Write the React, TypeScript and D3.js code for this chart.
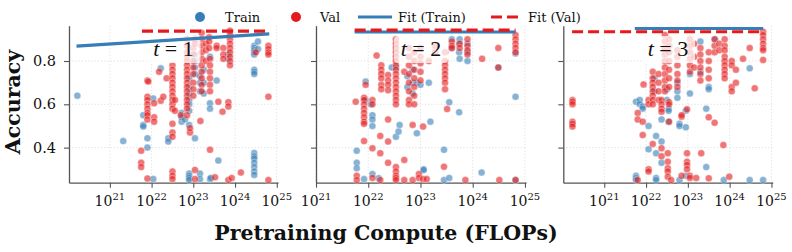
import React, { useRef, useEffect } from 'react';
import * as d3 from 'd3';

const width = 792, height = 252;
const BLUE = '#377eb8', RED = '#e41a1c';

// each entry: [log10 FLOPs, accuracies seen at that compute]
type Col = [number, number[]];

const trainT1: Col[] = [
  [20.22, [.64]], [21.32, [.43]], [21.8, [.55, .505, .497]], [21.9, [.443, .40]],
  [22.04, [.627, .255]], [22.22, [.766]], [22.4, [.443, .428]], [22.72, [.56, .52, .54]],
  [22.8, [.53]], [22.9, [.72, .68, .65, .62, .6, .57, .505, .28, .27, .26, .25]],
  [23.04, [.83, .8, .77, .74, .443]], [23.16, [.28, .255, .73, .7, .66]], [23.25, [.76, .7, .65]],
  [23.4, [.605, .58, .255, .82]], [23.42, [.26]], [23.56, [.71]], [23.6, [.34]], [23.84, [.83, .81]],
  [24.46, [.87, .86, .85, .84, .83, .76, .75, .74, .375, .36, .35, .33, .31, .29, .274]],
  [24.55, [.89, .855]],
];
const valT1: Col[] = [
  [21.75, [.386, .33, .31]], [21.9, [.71, .635, .62, .6, .58, .56, .55, .53, .257]], [21.92, [.705]],
  [22.06, [.605, .54, .52]], [22.18, [.75]], [22.22, [.617]], [22.28, [.635]], [22.36, [.72]],
  [22.5, [.78, .76, .74, .72, .7, .68, .66, .64, .62, .6, .58, .51, .47, .45, .29, .27, .255]],
  [22.56, [.62, .57]], [22.7, [.55]],
  [22.85, [.9, .87, .84, .82, .8, .78, .76, .74, .72, .7, .68, .66, .64, .62, .6, .58, .55]],
  [22.92, [.47, .49]], [23.0, [.86, .83, .8, .77, .74, .7, .67, .64]], [23.04, [.9, .88, .297, .255]],
  [23.17, [.523]], [23.2, [.93, .9, .87, .84, .81, .78, .75, .72, .69, .66]], [23.3, [.88, .85, .8]],
  [23.4, [.81, .78, .75, .72, .69, .66, .39]], [23.38, [.91, .89, .86]], [23.52, [.263]],
  [23.56, [.87, .86]], [23.6, [.612]], [23.7, [.566]], [23.72, [.86, .83, .81]], [23.84, [.61, .59, .25]],
  [23.88, [.94, .92, .9, .88, .86, .84, .82, .8, .78]], [23.92, [.26]], [24.14, [.285]], [24.5, [.84]],
  [24.8, [.87, .855, .84, .83, .635, .25]],
];

const trainT2: Col[] = [
  [21.78, [.386, .33, .305]], [21.92, [.255]], [21.95, [.705, .62]], [22.08, [.55, .53, .5, .278]],
  [22.05, [.6]], [22.2, [.259]], [22.45, [.77]], [22.53, [.77, .45]], [22.58, [.474]], [22.6, [.505]],
  [22.75, [.73, .68]], [22.85, [.76, .7, .65]], [22.93, [.466, .7]], [23.0, [.69]], [23.06, [.3, .297]],
  [23.16, [.7]], [23.19, [.52]], [23.45, [.39, .25]], [23.55, [.26, .61]], [23.6, [.9, .86]],
  [23.74, [.563, .88, .84]], [23.75, [.9, .81]], [23.9, [.88, .84, .8]], [24.17, [.285]], [24.49, [.77]],
  [24.82, [.835, .635, .25]],
];
const valT2: Col[] = [
  [21.76, [.612]], [21.78, [.27, .25]], [21.92, [.63, .62, .6, .58, .56, .54, .52, .51, .43]],
  [21.95, [.69]], [22.08, [.62, .6, .397, .26]], [22.16, [.825]], [22.23, [.454, .374, .25]],
  [22.25, [.78, .76, .74, .72, .69, .67]], [22.38, [.735, .71, .69, .665, .53, .428, .33]],
  [22.53, [.9, .88, .86, .84, .82, .8, .78, .76, .74, .72, .7, .68, .66, .64, .62, .6, .31, .29, .27, .26, .25]],
  [22.69, [.75, .343, .25]], [22.78, [.86, .82, .78, .74, .7, .66, .62, .6]], [22.85, [.505, .25]],
  [22.88, [.84, .8, .76, .72, .68, .64, .6]], [22.97, [.278, .26]], [23.0, [.86, .82, .79, .75, .71]],
  [23.05, [.497, .255]], [23.12, [.255]], [23.16, [.8]], [23.28, [.87, .84]], [23.45, [.312]],
  [23.47, [.8, .78, .76, .74, .72, .7, .67, .84]], [23.51, [.578]], [23.6, [.89, .87, .86]],
  [23.75, [.88, .86]], [23.86, [.25]], [23.9, [.9, .87, .85, .83]], [24.18, [.81]], [24.49, [.86, .77]],
  [24.51, [.25]], [24.82, [.92, .9, .88, .86, .84, .25]],
];

const trainT3: Col[] = [
  [21.76, [.612, .27, .26, .25]], [21.85, [.62, .6]], [21.92, [.59, .58]], [22.06, [.5, .392]],
  [22.24, [.454, .374, .26, .25]], [22.2, [.66, .72]], [22.37, [.53, .428, .33]], [22.54, [.52, .58, .57]],
  [22.5, [.67, .62]], [22.8, [.51, .5, .25]], [22.75, [.7, .66, .63]], [22.95, [.494, .57, .27]],
  [23.05, [.74, .65]], [23.3, [.89, .75]], [23.44, [.31, .58]], [23.5, [.68, .67]], [23.65, [.9]],
  [23.86, [.25]], [24.48, [.766, .25]], [24.8, [.25]],
];
const valT3: Col[] = [
  [20.24, [.62, .612, .6, .52, .51, .497]], [21.8, [.56, .53, .25]], [21.92, [.52, .458]], [21.94, [.692]],
  [22.06, [.62, .6, .3, .29]], [22.16, [.75, .72, .7, .68, .66, .64, .62, .6, .417]],
  [22.3, [.74, .7, .66, .62]], [22.37, [.62, .6, .58, .566, .397, .36]],
  [22.45, [.92, .89, .86, .83, .8, .77, .74, .71, .68, .66]], [22.52, [.374, .335, .305, .29, .266]],
  [22.55, [.9, .87, .84, .8, .76, .72, .68, .61, .6, .52]], [22.6, [.25]],
  [22.75, [.85, .82, .78, .74, .71, .68]], [22.85, [.543, .55, .27]], [22.98, [.374, .335, .32, .3, .577]],
  [23.05, [.9, .87, .84, .81, .78, .75, .27, .26]], [23.15, [.88, .82, .77]], [23.2, [.26]],
  [23.3, [.86, .83, .8, .77, .74, .71]], [23.32, [.374]], [23.5, [.84, .8, .76, .72, .54, .258]],
  [23.64, [.515, .9, .87, .84]], [23.75, [.88, .85]], [23.85, [.412]],
  [23.88, [.9, .87, .85, .82, .8, .78, .76, .74, .72]], [23.99, [.266]], [24.05, [.8, .78, .68, .66]],
  [24.15, [.76, .7]], [24.32, [.81]], [24.48, [.86]], [24.6, [.674]],
  [24.8, [.935, .92, .9, .88, .86, .85, .805]],
];

// fitted lines: [log10 FLOPs, accuracy] endpoints
const fitTrain = [
  [[20.2, .869], [24.82, .925]],
  [[21.74, .934], [24.82, .934]],
  [[21.73, .95], [24.8, .95]],
];
const fitVal = [
  [[21.77, .938], [24.8, .938]],
  [[21.74, .943], [24.82, .943]],
  [[20.23, .935], [24.79, .935]],
];

const panelNames = ['1', '2', '3'];
const xDomains = [[20.02, 25.03], [21, 25.02], [20.02, 25.03]];
const xRanges = [[69, 278], [316, 526], [563.3, 772.7]];
const xTickExps = [21, 22, 23, 24, 25];
const yTicks = [0.4, 0.6, 0.8];

const SERIF = '"DejaVu Serif", serif';

const flat = (cols: Col[]) => cols.flatMap(([lx, ys]) => ys.map(v => [lx, v]));

export default function App() {
  const ref = useRef<SVGSVGElement>(null);

  useEffect(() => {
    const svg = d3.select(ref.current);
    svg.selectAll('*').remove();

    const y = d3.scaleLinear().domain([0.238, 0.963]).range([182.7, 25.7]);
    const trains = [trainT1, trainT2, trainT3];
    const vals = [valT1, valT2, valT3];

    panelNames.forEach((name, i) => {
      const x = d3.scaleLog()
        .domain(xDomains[i].map(e => Math.pow(10, e)))
        .range(xRanges[i]);
      const g = svg.append('g');
      const [x0, x1] = xRanges[i];

      // grid
      g.selectAll('line.gx').data(xTickExps).join('line')
        .attr('x1', d => x(Math.pow(10, d))).attr('x2', d => x(Math.pow(10, d)))
        .attr('y1', 25.7).attr('y2', 182.7)
        .attr('stroke', '#d8d8d8').attr('stroke-width', 0.8).attr('stroke-dasharray', '1.2,2');
      g.selectAll('line.gy').data(yTicks).join('line')
        .attr('x1', x0).attr('x2', x1)
        .attr('y1', d => y(d)).attr('y2', d => y(d))
        .attr('stroke', '#d8d8d8').attr('stroke-width', 0.8).attr('stroke-dasharray', '1.2,2');

      // axes
      const xAxis = d3.axisBottom(x).tickValues(xTickExps.map(e => Math.pow(10, e)))
        .tickSize(5).tickSizeOuter(0).tickFormat(() => '');
      const gx = g.append('g').attr('transform', `translate(0,182.7)`).call(xAxis);
      const yAxis = d3.axisLeft(y).tickValues(yTicks).tickSize(5).tickSizeOuter(0)
        .tickFormat(i === 0 ? (d => d3.format('.1f')(d as number)) : () => '');
      const gy = g.append('g').attr('transform', `translate(${x0},0)`).call(yAxis);
      [gx, gy].forEach(a => {
        a.select('.domain').attr('stroke', '#555').attr('stroke-width', 1.3);
        a.selectAll('.tick line').attr('stroke', '#555').attr('stroke-width', 1.1);
      });
      gy.selectAll('.tick text').attr('font-family', SERIF).attr('font-size', 14.5)
        .attr('fill', '#111').attr('x', -13);

      // x tick labels 10^n
      xTickExps.forEach(e => {
        const t = g.append('text').attr('x', x(Math.pow(10, e))).attr('y', 206)
          .attr('text-anchor', 'middle').attr('font-family', SERIF).attr('font-size', 14).attr('fill', '#111');
        t.append('tspan').text('10');
        t.append('tspan').attr('dy', -6).attr('font-size', 10).text(String(e));
      });

      // points
      g.append('g').selectAll('circle').data(flat(trains[i])).join('circle')
        .attr('cx', d => x(Math.pow(10, d[0]))).attr('cy', d => y(d[1])).attr('r', 3.5)
        .attr('fill', BLUE).attr('fill-opacity', 0.6)
        .attr('stroke', '#fff').attr('stroke-width', 0.5).attr('stroke-opacity', 0.7);
      g.append('g').selectAll('circle').data(flat(vals[i])).join('circle')
        .attr('cx', d => x(Math.pow(10, d[0]))).attr('cy', d => y(d[1])).attr('r', 3.5)
        .attr('fill', RED).attr('fill-opacity', 0.6)
        .attr('stroke', '#fff').attr('stroke-width', 0.5).attr('stroke-opacity', 0.7);

      // panel label
      const cx = (x0 + x1) / 2;
      g.append('rect').attr('x', cx - 27).attr('y', 36).attr('width', 54).attr('height', 27)
        .attr('rx', 4).attr('fill', '#fff').attr('fill-opacity', 0.72);
      const lab = g.append('text').attr('x', cx).attr('y', 56).attr('text-anchor', 'middle')
        .attr('font-family', '"Liberation Serif", serif').attr('font-size', 22).attr('fill', '#111');
      lab.append('tspan').attr('font-style', 'italic').text('t');
      lab.append('tspan').text(' = ' + name);

      // fit lines
      const line = d3.line<number[]>().x(d => x(Math.pow(10, d[0]))).y(d => y(d[1]));
      g.append('path').attr('d', line(fitTrain[i])).attr('stroke', BLUE).attr('stroke-width', 3.2).attr('fill', 'none');
      g.append('path').attr('d', line(fitVal[i])).attr('stroke', RED).attr('stroke-width', 3.2)
        .attr('stroke-dasharray', '11,5').attr('fill', 'none');
    });

    // legend
    const lg = svg.append('g').attr('font-family', SERIF).attr('font-size', 13).attr('fill', '#111');
    lg.append('circle').attr('cx', 200).attr('cy', 17).attr('r', 5).attr('fill', BLUE);
    lg.append('text').attr('x', 225).attr('y', 21.5).text('Train');
    lg.append('circle').attr('cx', 296).attr('cy', 17).attr('r', 5).attr('fill', RED);
    lg.append('text').attr('x', 320).attr('y', 21.5).text('Val');
    lg.append('line').attr('x1', 358).attr('x2', 392).attr('y1', 17).attr('y2', 17)
      .attr('stroke', BLUE).attr('stroke-width', 3.2);
    lg.append('text').attr('x', 398).attr('y', 21.5).text('Fit (Train)');
    lg.append('line').attr('x1', 491).attr('x2', 522).attr('y1', 17).attr('y2', 17)
      .attr('stroke', RED).attr('stroke-width', 3.2).attr('stroke-dasharray', '11,5');
    lg.append('text').attr('x', 528).attr('y', 21.5).text('Fit (Val)');

    // axis titles
    svg.append('text').attr('transform', `translate(20,102) rotate(-90)`)
      .attr('text-anchor', 'middle').attr('font-family', SERIF).attr('font-weight', 'bold')
      .attr('font-size', 20.5).attr('fill', '#111').text('Accuracy');
    svg.append('text').attr('x', 386).attr('y', 240)
      .attr('text-anchor', 'middle').attr('font-family', SERIF).attr('font-weight', 'bold')
      .attr('font-size', 20.5).attr('fill', '#111').text('Pretraining Compute (FLOPs)');
  }, []);

  return (
    <div style={{ position: 'absolute', left: 0, top: 0 }}>
      <svg width={width} height={height} ref={ref} style={{ display: 'block', background: '#fff' }} />
    </div>
  );
}
